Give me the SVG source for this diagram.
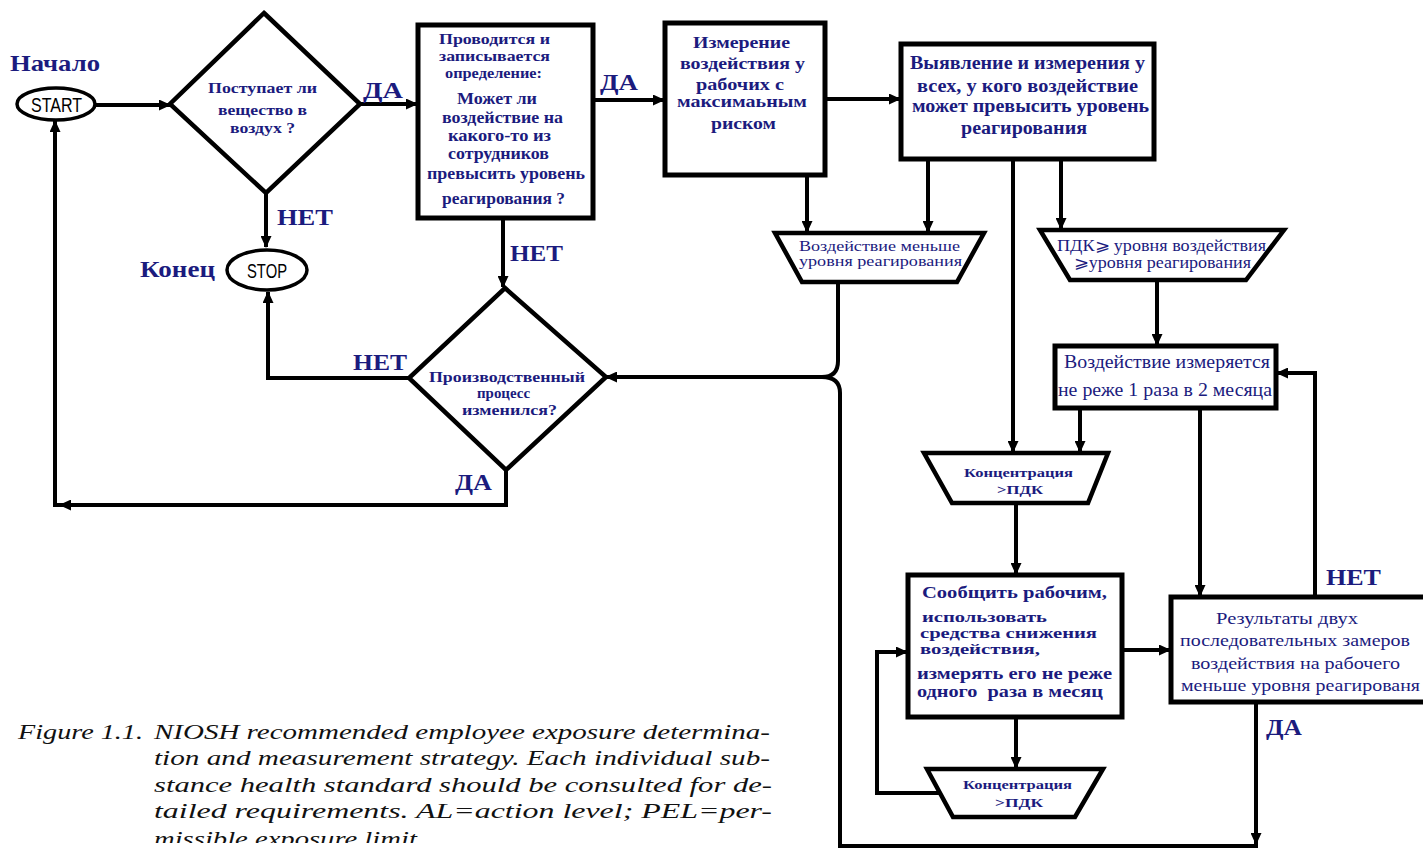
<svg xmlns="http://www.w3.org/2000/svg" width="1423" height="849" viewBox="0 0 1423 849">
<style>
.bg{fill:#ffffff}
.box{fill:#ffffff;stroke:#000;stroke-width:5;stroke-linejoin:miter}
.dia{fill:#ffffff;stroke:#000;stroke-width:4.5;stroke-linejoin:miter}
.oval{fill:#ffffff;stroke:#000;stroke-width:3.5}
.con{fill:none;stroke:#000;stroke-width:4;stroke-linejoin:miter}
.arr{marker-end:url(#ah)}
.t{font-family:"Liberation Serif","Times New Roman",serif;fill:#1b1b7e}
.b{font-weight:bold}
.lbl{font-family:"Liberation Serif","Times New Roman",serif;font-weight:bold;font-size:23px;fill:#1b1b7e}
.term{font-family:"Liberation Sans",Arial,sans-serif;font-size:21px;fill:#000}
.cap{font-family:"Liberation Serif","Times New Roman",serif;font-style:italic;font-size:21px;fill:#111}
</style>
<defs>
<marker id="ah" viewBox="0 0 12 11" refX="11" refY="5.5" markerWidth="12" markerHeight="11" orient="auto" markerUnits="userSpaceOnUse">
<path d="M0,0 L12,5.5 L0,11 z" fill="#000"/>
</marker>
<clipPath id="capclip"><rect x="0" y="0" width="1423" height="843"/></clipPath>
</defs>
<rect class="bg" x="0" y="0" width="1423" height="849"/>

<g id="connectors">
<path class="con arr" d="M95,105 H170"/>
<path class="con arr" d="M360,104 H417"/>
<path class="con arr" d="M266,193 V247"/>
<path class="con arr" d="M593,100 H664"/>
<path class="con arr" d="M825,99 H900"/>
<path class="con arr" d="M503,218 V287"/>
<path class="con arr" d="M409,378 H268 V292"/>
<path class="con arr" d="M506,470 V505 H60"/>
<path class="con arr" d="M62,505 H55 V121"/>
<path class="con arr" d="M807,175 V232"/>
<path class="con arr" d="M928,159 V232"/>
<path class="con arr" d="M1013,159 V452"/>
<path class="con arr" d="M1061,159 V229"/>
<path class="con arr" d="M1157,280 V345"/>
<path class="con arr" d="M1080,408 V452"/>
<path class="con arr" d="M1200,408 V596"/>
<path class="con arr" d="M1315,597 V373 H1277"/>
<path class="con arr" d="M1016,503 V574"/>
<path class="con arr" d="M1016,717 V768"/>
<path class="con arr" d="M940,793 H877 V652 H907"/>
<path class="con arr" d="M1122,650 H1170"/>
<path class="con arr" d="M1256,702 V844"/>
<path class="con" d="M1258,846 H840 V393 Q840,377 822,377"/>
<path class="con" d="M838,282 V361 Q838,377 822,377"/>
<path class="con arr" d="M824,377 H606"/>
</g>

<g id="start">
<ellipse class="oval" cx="56" cy="104" rx="39" ry="16"/>
<text class="term" x="31" y="112" textLength="51" lengthAdjust="spacingAndGlyphs">START</text>
</g>
<g id="label-start"><text class="lbl" x="10" y="71" textLength="90" lengthAdjust="spacingAndGlyphs">Начало</text></g>

<g id="stop">
<ellipse class="oval" cx="267" cy="270" rx="40" ry="20"/>
<text class="term" x="247" y="278" textLength="40" lengthAdjust="spacingAndGlyphs">STOP</text>
</g>
<g id="label-stop"><text class="lbl" x="140" y="277" textLength="75" lengthAdjust="spacingAndGlyphs">Конец</text></g>

<g id="decision1">
<polygon class="dia" points="264,13 360,104 266,193 170,104"/>
<text class="t b" font-size="14" x="208" y="93" textLength="109" lengthAdjust="spacingAndGlyphs">Поступает ли</text>
<text class="t b" font-size="14" x="218" y="115" textLength="89" lengthAdjust="spacingAndGlyphs">вещество в</text>
<text class="t b" font-size="14" x="230" y="133" textLength="65" lengthAdjust="spacingAndGlyphs">воздух ?</text>
</g>

<g id="box-determination">
<rect class="box" x="418" y="25" width="175" height="193"/>
<text class="t b" font-size="15" x="439" y="44" textLength="111" lengthAdjust="spacingAndGlyphs">Проводится и</text>
<text class="t b" font-size="15" x="439" y="61" textLength="111" lengthAdjust="spacingAndGlyphs">записывается</text>
<text class="t b" font-size="15" x="445" y="78" textLength="97" lengthAdjust="spacingAndGlyphs">определение:</text>
<text class="t b" font-size="16" x="457" y="104" textLength="80" lengthAdjust="spacingAndGlyphs">Может ли</text>
<text class="t b" font-size="16" x="442" y="123" textLength="121" lengthAdjust="spacingAndGlyphs">воздействие на</text>
<text class="t b" font-size="16" x="448" y="141" textLength="103" lengthAdjust="spacingAndGlyphs">какого-то из</text>
<text class="t b" font-size="16" x="448" y="159" textLength="101" lengthAdjust="spacingAndGlyphs">сотрудников</text>
<text class="t b" font-size="16" x="427" y="179" textLength="158" lengthAdjust="spacingAndGlyphs">превысить уровень</text>
<text class="t b" font-size="16" x="442" y="204" textLength="123" lengthAdjust="spacingAndGlyphs">реагирования ?</text>
</g>

<g id="box-max-risk">
<rect class="box" x="665" y="23" width="160" height="152"/>
<text class="t b" font-size="17" x="693" y="48" textLength="97" lengthAdjust="spacingAndGlyphs">Измерение</text>
<text class="t b" font-size="17" x="680" y="69" textLength="125" lengthAdjust="spacingAndGlyphs">воздействия у</text>
<text class="t b" font-size="17" x="696" y="90" textLength="88" lengthAdjust="spacingAndGlyphs">рабочих с</text>
<text class="t b" font-size="17" x="677" y="107" textLength="130" lengthAdjust="spacingAndGlyphs">максимаьным</text>
<text class="t b" font-size="17" x="711" y="129" textLength="65" lengthAdjust="spacingAndGlyphs">риском</text>
</g>

<g id="box-all-workers">
<rect class="box" x="901" y="44" width="253" height="115"/>
<text class="t b" font-size="18" x="910" y="69" textLength="235" lengthAdjust="spacingAndGlyphs">Выявление и измерения у</text>
<text class="t b" font-size="18" x="917" y="92" textLength="221" lengthAdjust="spacingAndGlyphs">всех, у кого воздействие</text>
<text class="t b" font-size="18" x="912" y="112" textLength="237" lengthAdjust="spacingAndGlyphs">может превысить уровень</text>
<text class="t b" font-size="18" x="961" y="134" textLength="126" lengthAdjust="spacingAndGlyphs">реагирования</text>
</g>

<g id="trap-below-al">
<polygon class="dia" points="775,233 984,233 957,282 802,282"/>
<text class="t" font-size="15" x="799" y="251" textLength="161" lengthAdjust="spacingAndGlyphs">Воздействие меньше</text>
<text class="t" font-size="15" x="799" y="266" textLength="163" lengthAdjust="spacingAndGlyphs">уровня реагирования</text>
</g>

<g id="trap-between">
<polygon class="dia" points="1040,230 1284,230 1246,280 1070,280"/>
<text class="t" font-size="16" x="1057" y="251" textLength="209" lengthAdjust="spacingAndGlyphs">ПДК⩾ уровня воздействия</text>
<text class="t" font-size="16" x="1074" y="268" textLength="177" lengthAdjust="spacingAndGlyphs">⩾уровня реагирования</text>
</g>

<g id="box-bimonthly">
<rect class="box" x="1055" y="346" width="221" height="62"/>
<text class="t" font-size="18" x="1064" y="368" textLength="206" lengthAdjust="spacingAndGlyphs">Воздействие измеряется</text>
<text class="t" font-size="18" x="1058" y="396" textLength="214" lengthAdjust="spacingAndGlyphs">не реже 1 раза в 2 месяца</text>
</g>

<g id="trap-conc1">
<polygon class="dia" points="924,453 1108,453 1088,503 952,503"/>
<text class="t b" font-size="13" x="964" y="477" textLength="109" lengthAdjust="spacingAndGlyphs">Концентрация</text>
<text class="t b" font-size="13" x="997" y="494" textLength="46" lengthAdjust="spacingAndGlyphs">&gt;ПДК</text>
</g>

<g id="decision2">
<polygon class="dia" points="505,288 606,377 506,470 409,378"/>
<text class="t b" font-size="14" x="429" y="382" textLength="156" lengthAdjust="spacingAndGlyphs">Производственный</text>
<text class="t b" font-size="14" x="477" y="398" textLength="53" lengthAdjust="spacingAndGlyphs">процесс</text>
<text class="t b" font-size="14" x="462" y="415" textLength="95" lengthAdjust="spacingAndGlyphs">изменился?</text>
</g>

<g id="box-inform">
<rect class="box" x="908" y="575" width="214" height="142"/>
<text class="t b" font-size="17" x="922" y="598" textLength="185" lengthAdjust="spacingAndGlyphs">Сообщить рабочим,</text>
<text class="t b" font-size="14.5" x="922" y="622" textLength="125" lengthAdjust="spacingAndGlyphs">использовать</text>
<text class="t b" font-size="14.5" x="920" y="638" textLength="177" lengthAdjust="spacingAndGlyphs">средства снижения</text>
<text class="t b" font-size="14.5" x="920" y="654" textLength="120" lengthAdjust="spacingAndGlyphs">воздействия,</text>
<text class="t b" font-size="16" x="917" y="679" textLength="195" lengthAdjust="spacingAndGlyphs">измерять его не реже</text>
<text class="t b" font-size="16" x="917" y="697" textLength="186" lengthAdjust="spacingAndGlyphs" xml:space="preserve">одного  раза в месяц</text>
</g>

<g id="trap-conc2">
<polygon class="dia" points="927,769 1103,769 1075,817 953,817"/>
<text class="t b" font-size="13" x="963" y="789" textLength="109" lengthAdjust="spacingAndGlyphs">Концентрация</text>
<text class="t b" font-size="13" x="995" y="807" textLength="48" lengthAdjust="spacingAndGlyphs">&gt;ПДК</text>
</g>

<g id="box-results">
<rect class="box" x="1171" y="597" width="260" height="105"/>
<text class="t" font-size="17" x="1216" y="624" textLength="142" lengthAdjust="spacingAndGlyphs">Результаты двух</text>
<text class="t" font-size="17" x="1180" y="646" textLength="230" lengthAdjust="spacingAndGlyphs">последовательных замеров</text>
<text class="t" font-size="17" x="1191" y="669" textLength="209" lengthAdjust="spacingAndGlyphs">воздействия на рабочего</text>
<text class="t" font-size="17" x="1181" y="691" textLength="239" lengthAdjust="spacingAndGlyphs">меньше уровня реагированя</text>
</g>

<g id="edge-labels">
<text class="lbl" x="363" y="98" textLength="40" lengthAdjust="spacingAndGlyphs">ДА</text>
<text class="lbl" x="277" y="225" textLength="56" lengthAdjust="spacingAndGlyphs">НЕТ</text>
<text class="lbl" x="600" y="90" textLength="38" lengthAdjust="spacingAndGlyphs">ДА</text>
<text class="lbl" x="510" y="261" textLength="53" lengthAdjust="spacingAndGlyphs">НЕТ</text>
<text class="lbl" x="353" y="370" textLength="54" lengthAdjust="spacingAndGlyphs">НЕТ</text>
<text class="lbl" x="455" y="490" textLength="37" lengthAdjust="spacingAndGlyphs">ДА</text>
<text class="lbl" x="1326" y="585" textLength="55" lengthAdjust="spacingAndGlyphs">НЕТ</text>
<text class="lbl" x="1266" y="735" textLength="36" lengthAdjust="spacingAndGlyphs">ДА</text>
</g>

<g id="caption">
<text class="cap" x="18" y="739" textLength="125" lengthAdjust="spacingAndGlyphs">Figure 1.1.</text>
<text class="cap" x="154" y="739" textLength="616" lengthAdjust="spacingAndGlyphs">NIOSH recommended employee exposure determina-</text>
<text class="cap" x="154" y="765" textLength="616" lengthAdjust="spacingAndGlyphs">tion and measurement strategy. Each individual sub-</text>
<text class="cap" x="154" y="792" textLength="618" lengthAdjust="spacingAndGlyphs">stance health standard should be consulted for de-</text>
<text class="cap" x="154" y="818" textLength="618" lengthAdjust="spacingAndGlyphs">tailed requirements. AL=action level; PEL=per-</text>
<text class="cap" x="154" y="846" textLength="270" lengthAdjust="spacingAndGlyphs" clip-path="url(#capclip)">missible exposure limit.</text>
</g>
</svg>
